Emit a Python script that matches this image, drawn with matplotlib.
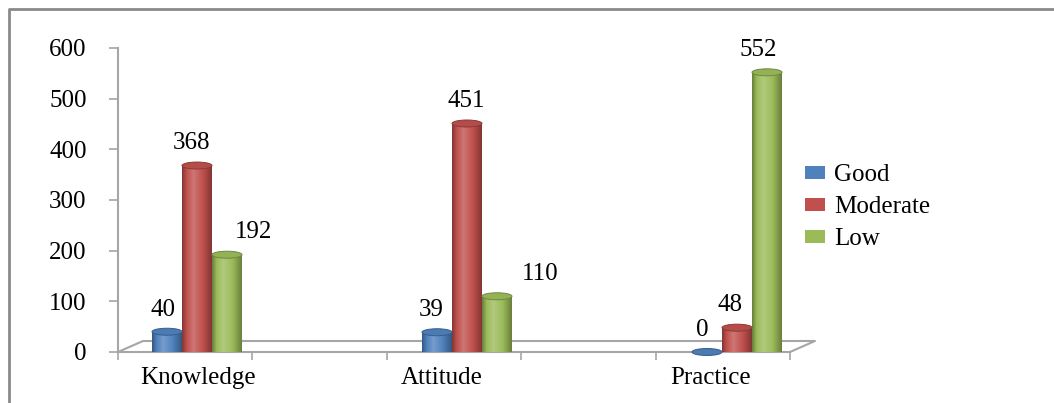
import numpy as np
import matplotlib.pyplot as plt
from matplotlib.colors import LinearSegmentedColormap, to_rgb
from matplotlib.patches import Ellipse
from matplotlib.path import Path
from matplotlib.lines import Line2D

# counts per domain and level
categories = ["Knowledge", "Attitude", "Practice"]
levels = ["Good", "Moderate", "Low"]
good = [40, 39, 0]
moderate = [368, 451, 48]
low = [192, 110, 552]
series = [good, moderate, low]
colors = ["#4F81BD", "#C0504D", "#9BBB59"]

# label nudges in pixels (x) for each value label, per level
label_dx = [[-4, -6, -5], [-6, -1, -7], [27, 43, -9]]

plt.rcParams['font.family'] = ['Liberation Serif', 'DejaVu Serif']
FS = 18

W, H = 1054, 403
fig = plt.figure(figsize=(W / 100, H / 100), dpi=100)

# plot box in pixels: floor front edge at y0, top of the value axis at y1
x0, x1 = 118, 790
y0, y1 = 352, 48
ax = fig.add_axes([x0 / W, 1 - y0 / H, (x1 - x0) / W, (y0 - y1) / H])
ax.patch.set_visible(False)

px = 1 / 270.0          # one pixel in x units (one unit between groups)
py = 600.0 / (y0 - y1)  # one pixel in y units
xmin = -(197 - x0) * px
xmax = xmin + (x1 - x0) * px


def cylinder_cmap(c):
    r = np.array(to_rgb(c))
    dark = r * 0.68
    light = r + (1 - r) * 0.22
    return LinearSegmentedColormap.from_list(
        "cyl", [(0, dark), (0.15, r), (0.38, light), (0.7, r), (1, dark)])


grad = np.linspace(0, 1, 64).reshape(1, -1)
bw = 30 * px
ry = 3.5 * py
t = np.linspace(0, np.pi, 40)

for i, (name, vals, col) in enumerate(zip(levels, series, colors)):
    xs = np.arange(len(categories)) + (i - 1) * bw
    bars = ax.bar(xs, vals, bw, color=col, linewidth=0, zorder=3, label=name)
    cmap = cylinder_cmap(col)
    rgb = np.array(to_rgb(col))
    for j, b in enumerate(bars):
        bx, w, h = b.get_x(), b.get_width(), b.get_height()
        cx = bx + w / 2
        # body outline: straight sides plus rounded bottom
        pts = [(bx, h), (bx, 0)]
        pts += list(zip(cx - w / 2 * np.cos(t), -ry * np.sin(t)))
        pts += [(bx + w, 0), (bx + w, h), (bx, h)]
        body = Path(pts)
        im = ax.imshow(grad, extent=(bx, bx + w, -ry, h), aspect='auto',
                       cmap=cmap, zorder=3.1, interpolation='bilinear')
        im.set_clip_path(body, ax.transData)
        im.set_clip_box(None)
        cap = Ellipse((cx, h), w, 2 * ry, facecolor=rgb * 0.95,
                      edgecolor=rgb * 0.72, lw=0.7, zorder=3.2, clip_on=False)
        ax.add_patch(cap)
        ax.annotate(str(vals[j]), (cx, h), xytext=(label_dx[i][j] * 0.72, 16),
                    textcoords='offset points', ha='center', va='center',
                    fontsize=FS, zorder=5, annotation_clip=False)

ax.set_xlim(xmin, xmax)
ax.set_ylim(0, 600)

# floor of the 3d plot
floor = dict(color='#a6a6a6', lw=1.5, clip_on=False, zorder=1)
ddx, ddy = 25 * px, 11 * py
ax.plot([xmin, xmin + ddx, xmax + ddx, xmax], [0, ddy, ddy, 0], **floor)

for s in ['top', 'right']:
    ax.spines[s].set_visible(False)
for s in ['left', 'bottom']:
    ax.spines[s].set_color('#a6a6a6')
    ax.spines[s].set_linewidth(1.5)

ax.set_yticks(range(0, 601, 100))
ax.tick_params(axis='y', length=6.5, width=1.2, color='#a6a6a6',
               labelsize=FS, pad=16)

# category names centred under each group, tick marks every 134 px
label_px = [198, 442, 711]
ax.set_xticks([xmin + (p - x0) * px for p in label_px], categories)
ax.set_xticks([xmin + k * 134.4 * px for k in range(6)], minor=True)
ax.tick_params(axis='x', which='major', length=0, labelsize=FS, pad=11)
ax.tick_params(axis='x', which='minor', length=6, width=1.2, color='#a6a6a6')

ax.legend(loc='center left', bbox_to_anchor=(805 / W, 1 - 207 / H),
          bbox_transform=fig.transFigure, frameon=False, fontsize=FS,
          handlelength=0.8, handleheight=0.42, handletextpad=0.35,
          labelspacing=0.4, borderpad=0, borderaxespad=0)

# chart frame (top and left edges)
fig.add_artist(Line2D([9 / W, 9 / W, 1], [0, 1 - 9 / H, 1 - 9 / H],
                      transform=fig.transFigure, color='#8a8a8a', lw=2))

fig.savefig("out.png", dpi=100)
